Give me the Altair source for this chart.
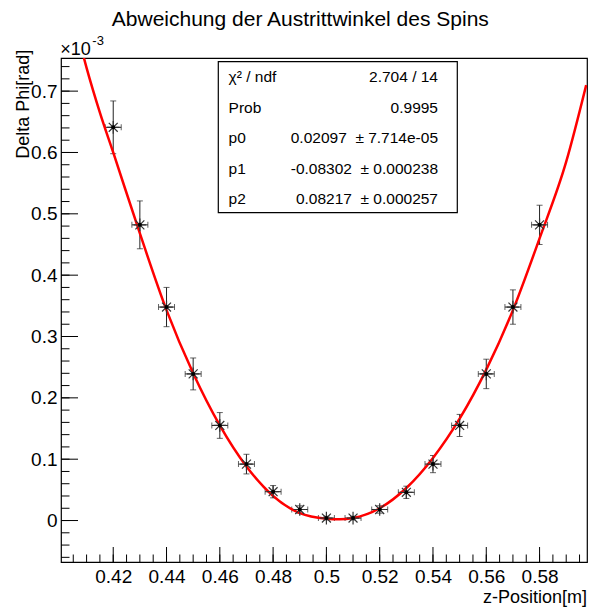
import altair as alt
import pandas as pd

# ---- data (Delta Phi in units of 1e-3 rad) ----
z = [0.42, 0.43, 0.44, 0.45, 0.46, 0.47, 0.48, 0.49, 0.50, 0.51, 0.52, 0.53, 0.54, 0.55, 0.56, 0.57, 0.58]
dphi = [0.641, 0.482, 0.348, 0.239, 0.155, 0.092, 0.047, 0.018, 0.004, 0.004, 0.018, 0.046, 0.092, 0.155, 0.239, 0.348, 0.482]
dphi_err = [0.043, 0.039, 0.032, 0.026, 0.021, 0.016, 0.010, 0.006, 0.003, 0.003, 0.006, 0.010, 0.014, 0.018, 0.024, 0.028, 0.032]
z_err = [0.003] * len(z)

fit_z = [0.409, 0.41, 0.415, 0.42, 0.43, 0.44, 0.45, 0.46, 0.47, 0.48, 0.49, 0.50, 0.505, 0.51,
         0.52, 0.53, 0.54, 0.55, 0.56, 0.57, 0.58, 0.59, 0.5975]
fit_dphi = [0.754, 0.738, 0.665, 0.600, 0.468, 0.343, 0.240, 0.155, 0.088, 0.040, 0.012, 0.003, 0.002, 0.004,
            0.020, 0.053, 0.102, 0.166, 0.246, 0.343, 0.460, 0.585, 0.710]

x_major = [0.42, 0.44, 0.46, 0.48, 0.50, 0.52, 0.54, 0.56, 0.58]
x_minor = [round(0.405 + 0.005 * i, 3) for i in range(39)]
y_major = [0.0, 0.1, 0.2, 0.3, 0.4, 0.5, 0.6, 0.7]
y_minor = [round(-0.06 + 0.02 * i, 2) for i in range(41)]

stat_names = ["χ² / ndf", "Prob", "p0", "p1", "p2"]
stat_values = ["2.704 / 14", "0.9995", "0.02097\u00a0\u00a0± 7.714e-05",
               "-0.08302\u00a0\u00a0± 0.000238", "0.08217\u00a0\u00a0± 0.000257"]

title = "Abweichung der Austrittwinkel des Spins"
x_title = "z-Position[m]"
y_title = "Delta Phi[rad]"

W, H = 526, 504
FONT = "Liberation Sans"
XDOM = [0.4004, 0.5978]
YDOM = [-0.0676, 0.754]

df = pd.DataFrame({"z": z, "dphi": dphi, "err": dphi_err, "zerr": z_err})
df["lo"] = df["dphi"] - df["err"]
df["hi"] = df["dphi"] + df["err"]
df["zlo"] = df["z"] - df["zerr"]
df["zhi"] = df["z"] + df["zerr"]

fit_df = pd.DataFrame({"z": fit_z, "dphi": fit_dphi})

xs = alt.Scale(domain=XDOM, nice=False, zero=False)
ys = alt.Scale(domain=YDOM, nice=False, zero=False)

base = alt.Chart(df)

def X(f):
    return alt.X(f, title=None)

def Y(f):
    return alt.Y(f, title=None)

# vertical error bars (carries the axes)
verr = base.mark_rule(color="#222", strokeWidth=1).encode(
    x=alt.X("z:Q", scale=xs, title=None,
            axis=alt.Axis(values=x_major, format=".2~f", labelBaseline="top", labelPadding=5)),
    y=alt.Y("lo:Q", scale=ys, title=None,
            axis=alt.Axis(values=y_major, format=".1~f", labelPadding=4)),
    y2="hi:Q",
)
herr = base.mark_rule(color="#222", strokeWidth=1).encode(
    x=X("zlo:Q"), x2="zhi:Q", y=Y("dphi:Q"))
cap_top = base.mark_tick(orient="horizontal", size=6, thickness=1, color="#222").encode(
    x=X("z:Q"), y=Y("hi:Q"))
cap_bot = base.mark_tick(orient="horizontal", size=6, thickness=1, color="#222").encode(
    x=X("z:Q"), y=Y("lo:Q"))
cap_l = base.mark_tick(orient="vertical", size=6, thickness=1, color="#222").encode(
    x=X("zlo:Q"), y=Y("dphi:Q"))
cap_r = base.mark_tick(orient="vertical", size=6, thickness=1, color="#222").encode(
    x=X("zhi:Q"), y=Y("dphi:Q"))

star_path = "M-1,0L1,0M0,-1L0,1M-0.707,-0.707L0.707,0.707M-0.707,0.707L0.707,-0.707"
stars = base.mark_point(shape=star_path, size=160, filled=False, color="#333", strokeWidth=1.2, opacity=1).encode(
    x=X("z:Q"), y=Y("dphi:Q"))
dots = base.mark_circle(size=16, color="#000", opacity=1).encode(
    x=X("z:Q"), y=Y("dphi:Q"))

fit = alt.Chart(fit_df).mark_line(color="#ff0000", strokeWidth=2.5, interpolate="monotone", clip=True).encode(
    x=X("z:Q"), y=Y("dphi:Q"))

# inward ticks
ymaj = alt.Chart(pd.DataFrame({"v": y_major})).mark_rule(color="#000", strokeWidth=1).encode(
    y=Y("v:Q"), x=alt.value(0), x2=alt.value(17))
ymin = alt.Chart(pd.DataFrame({"v": y_minor})).mark_rule(color="#000", strokeWidth=1).encode(
    y=Y("v:Q"), x=alt.value(0), x2=alt.value(8.5))
xmaj = alt.Chart(pd.DataFrame({"v": x_major})).mark_rule(color="#000", strokeWidth=1).encode(
    x=X("v:Q"), y=alt.value(H), y2=alt.value(H - 15))
xmin = alt.Chart(pd.DataFrame({"v": x_minor})).mark_rule(color="#000", strokeWidth=1).encode(
    x=X("v:Q"), y=alt.value(H), y2=alt.value(H - 7.5))

# stats box
box = alt.Chart(pd.DataFrame({"a": [0]})).mark_rect(fill="white", stroke="#000", strokeWidth=1.2).encode(
    x=alt.value(157.3), x2=alt.value(396.3), y=alt.value(3.7), y2=alt.value(154.7))
names_txt = alt.Chart(pd.DataFrame({"t": ["\n".join(stat_names)]})).mark_text(
    align="left", baseline="alphabetic", font=FONT, fontSize=15.5, lineHeight=30.5, lineBreak="\n", color="#000"
).encode(text="t:N", x=alt.value(167.6), y=alt.value(24.4))
vals_txt = alt.Chart(pd.DataFrame({"t": ["\n".join(stat_values)]})).mark_text(
    align="right", baseline="alphabetic", font=FONT, fontSize=15.5, lineHeight=30.5, lineBreak="\n", color="#000"
).encode(text="t:N", x=alt.value(377), y=alt.value(24.4))

# titles
def label(txt, x, y, size, align="left", angle=0):
    kw = dict(align=align, baseline="alphabetic", font=FONT, fontSize=size, color="#000")
    if angle:
        kw["angle"] = angle
        kw["baseline"] = "middle"
    return alt.Chart(pd.DataFrame({"t": [txt]})).mark_text(**kw).encode(
        text="t:N", x=alt.value(x), y=alt.value(y))

t_title = label(title, 239.3, -32, 21, align="center")
t_x10 = label("×10", -0.7, -2.6, 18)
t_exp = label("-3", 31.3, -13.3, 13)
t_xt = label(x_title, W, H + 41, 18, align="right")
t_yt = label(y_title, -37.2, -8.3, 18, align="right", angle=270)

chart = alt.layer(
    verr, herr, cap_top, cap_bot, cap_l, cap_r, fit, stars, dots,
    ymaj, ymin, xmaj, xmin,
    box, names_txt, vals_txt,
    t_title, t_x10, t_exp, t_xt, t_yt,
).properties(
    width=W, height=H,
    padding={"left": 61, "top": 58, "right": 5, "bottom": 49},
    autosize=alt.AutoSizeParams(type="none"),
    background="white",
).configure_view(stroke="#000", strokeWidth=1.2).configure_axis(
    ticks=False, tickSize=0, domain=False, grid=False,
    labelFont=FONT, labelFontSize=19, labelColor="#000", title=None,
)

chart.save("out.html", embed_options={"renderer": "svg", "actions": False})
